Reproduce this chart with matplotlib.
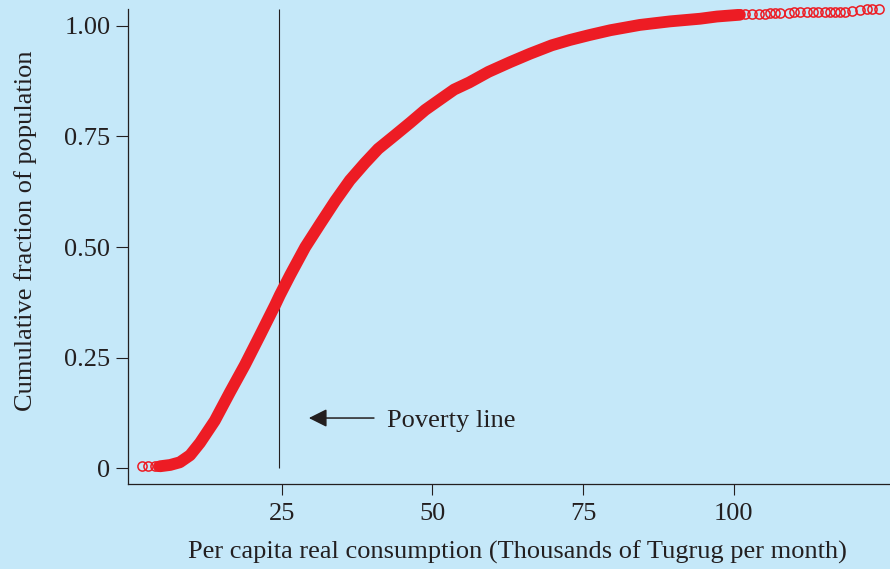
#!/usr/bin/env python3
"""Cumulative distribution of per capita consumption with the poverty line."""
import matplotlib.pyplot as plt

# dense part of the distribution (thousands of Tugrug, cum. fraction)
consumption = [4.8, 6.5, 8.1, 9.8, 11.45, 13.9, 16.4, 18.9, 21.4, 23.9, 24.7,
               26.4, 28.9, 31.4, 33.9, 36.3, 38.8, 41.0, 43.8, 46.3, 48.8,
               51.3, 53.6, 56.1, 59.3, 62.9, 66.2, 69.8, 72.8, 76.0, 79.5,
               84.4, 89.4, 94.4, 97.2, 101.0]
cum_fraction = [0.005, 0.008, 0.014, 0.030, 0.058, 0.108, 0.172, 0.234, 0.301,
                0.369, 0.392, 0.437, 0.500, 0.553, 0.605, 0.651, 0.690, 0.722,
                0.753, 0.781, 0.810, 0.834, 0.856, 0.872, 0.896, 0.918, 0.937,
                0.956, 0.968, 0.979, 0.990, 1.002, 1.010, 1.016, 1.021, 1.025]

# sparse tails where single households are visible
low_tail_x = [1.8, 2.9, 4.0, 4.5]
low_tail_y = [0.005, 0.005, 0.005, 0.005]
high_tail_x = [101.9, 103.0, 104.1, 105.2, 106.0, 106.8, 107.7, 109.1, 109.9,
               111.0, 112.1, 113.2, 114.0, 115.2, 116.0, 116.8, 117.6, 118.5,
               119.6, 120.9, 122.1, 122.9, 124.0]
high_tail_y = [1.026, 1.026, 1.027, 1.027, 1.028, 1.029, 1.030, 1.030, 1.031,
               1.031, 1.031, 1.031, 1.031, 1.032, 1.032, 1.032, 1.032, 1.032,
               1.033, 1.036, 1.037, 1.037, 1.037]

poverty_line = 24.6
x_ticks = [25, 50, 75, 100]
y_ticks = [0, 0.25, 0.50, 0.75, 1.00]
y_tick_labels = ["0", "0.25", "0.50", "0.75", "1.00"]

BG = "#c5e8f9"
RED = "#ed1c24"
INK = "#231f20"

plt.rcParams["font.family"] = ["Liberation Serif", "DejaVu Serif"]

fig = plt.figure(figsize=(8.9, 5.69), dpi=100, facecolor=BG)
ax = fig.add_axes([0.1438, 0.1494, 0.8562, 0.8348], facecolor=BG)

ax.plot(consumption, cum_fraction, color=RED, lw=8.5,
        solid_capstyle="round", solid_joinstyle="round", zorder=3)
ax.plot(low_tail_x + high_tail_x, low_tail_y + high_tail_y, ls="none",
        marker="o", ms=6.6, mfc="none", mec=RED, mew=1.1, zorder=3,
        clip_on=False)

top = 1.038
ax.vlines(poverty_line, 0, top, color=INK, lw=0.8, zorder=2)

ax.annotate("", xy=(29.5, 0.114), xytext=(40.3, 0.114),
            arrowprops=dict(arrowstyle="-|>,head_length=1.1,head_width=0.55",
                            color=INK, lw=1.1, shrinkA=0, shrinkB=0))
ax.text(42.5, 0.108, "Poverty line", fontsize=19, color=INK,
        ha="left", va="center")

ax.set_xlim(-0.5, 125.9)
ax.set_ylim(-0.035, top)
ax.set_xticks(x_ticks)
ax.set_yticks(y_ticks)
ax.set_yticklabels(y_tick_labels)

for side in ["top", "right"]:
    ax.spines[side].set_visible(False)
for side in ["left", "bottom"]:
    ax.spines[side].set_color(INK)
    ax.spines[side].set_linewidth(0.9)

ax.tick_params(axis="y", length=8.6, width=0.8, color=INK, labelsize=19,
               labelcolor=INK, pad=4)
ax.tick_params(axis="x", length=8, width=0.8, color=INK, labelsize=19,
               labelcolor=INK, pad=6)

ax.set_xlabel("Per capita real consumption (Thousands of Tugrug per month)",
              fontsize=19, color=INK, va="center")
ax.xaxis.set_label_coords(0.5105, -0.143)
ax.set_ylabel("Cumulative fraction of population", fontsize=19, color=INK,
              va="center")
ax.yaxis.set_label_coords(-0.135, 0.533)

fig.savefig("out.png", dpi=100, facecolor=BG)
